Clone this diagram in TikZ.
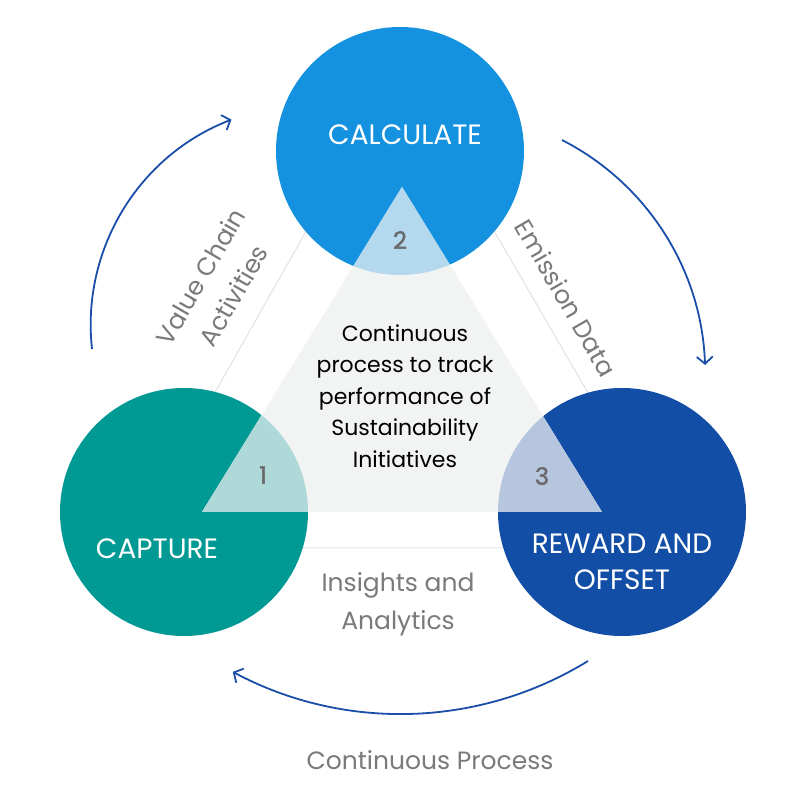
\documentclass[tikz,border=0pt]{standalone}
\usepackage{fontspec}
\setmainfont{Poppins}
\newfontfamily\numfont[FakeBold=1.5]{Poppins}
\usetikzlibrary{arrows.meta}
\definecolor{calcblue}{HTML}{1592DF}
\definecolor{capteal}{HTML}{009994}
\definecolor{rewblue}{HTML}{124EA6}
\definecolor{trifill}{HTML}{F2F4F3}
\definecolor{ovcalc}{HTML}{B4D8EE}
\definecolor{ovcap}{HTML}{AFD9D8}
\definecolor{ovrew}{HTML}{B6C6DF}
\definecolor{numgray}{HTML}{6A6A6A}
\definecolor{labgray}{HTML}{7A7A7A}
\definecolor{flowblue}{HTML}{1A4EA8}
\definecolor{faintgray}{HTML}{E2E2E2}
\begin{document}
\begin{tikzpicture}[x=1pt,y=1pt,
  bigcirc/.style={circle, minimum size=248pt, inner sep=0pt},
  circtext/.style={text=white, font=\fontsize{28}{36}\selectfont, align=center},
  numtext/.style={text=numgray, font=\numfont\fontsize{24}{26}\selectfont},
  graylab/.style={text=labgray, font=\fontsize{25}{38}\selectfont, align=center},
  flow/.style={draw=flowblue, line width=1.8pt, -{Straight Barb[length=7pt,width=16pt]}},
  faint/.style={draw=faintgray, line width=1pt}]
\useasboundingbox (0,0) rectangle (808,798);
\fill[white] (0,0) rectangle (808,798);
% faint outer triangle
\coordinate (ot) at (399,731);
\coordinate (ol) at (127,250);
\coordinate (or) at (678,250);
\draw[faint] (ot) -- (ol) -- (or) -- cycle;
% circles
\node[bigcirc, fill=calcblue] (calc) at (400,647) {};
\node[bigcirc, fill=capteal] (capt) at (184,286) {};
\node[bigcirc, fill=rewblue] (rew) at (622,286) {};
% central triangle
\coordinate (ta) at (402,611);
\coordinate (tl) at (202,286);
\coordinate (tr) at (602,286);
\fill[trifill] (ta) -- (tl) -- (tr) -- cycle;
\begin{scope}
  \clip (ta) -- (tl) -- (tr) -- cycle;
  \fill[ovcalc] (calc.center) circle (124);
  \fill[ovcap] (capt.center) circle (124);
  \fill[ovrew] (rew.center) circle (124);
\end{scope}
% circle labels
\node[circtext] (tcalc) at (405,663) {CALCULATE};
\node[circtext] (tcapt) at (157,249) {CAPTURE};
\node[circtext] (trew) at (622,236) {REWARD AND\\OFFSET};
% numbers
\node[numtext] (n2) at (400,558) {2};
\node[numtext] (n1) at (263,323) {1};
\node[numtext] (n3) at (542,322) {3};
% centre text
\node[align=center, text=black, font=\fontsize{22}{31.5}\selectfont] (ctext) at (405,402)
  {Continuous\\process to track\\performance of\\Sustainability\\Initiatives};
% gray labels
\node[graylab, rotate=60] (vca) at (217,512) {Value Chain\\Activities};
\node[graylab, rotate=-60] (emd) at (566,500) {Emission Data};
\node[graylab] (ina) at (398,194) {Insights and\\Analytics};
\node[graylab] (cp) at (430,38) {Continuous Process};
% flow arrows
\coordinate (a1s) at (92,449);
\draw[flow] (a1s) arc[start angle=186.3, end angle=111.1, radius=220];
\coordinate (a2s) at (562,658);
\draw[flow] (a2s) arc[start angle=62.9, end angle=2, radius=263];
\coordinate (a3s) at (588,137);
\draw[flow] (a3s) arc[start angle=-58.4, end angle=-118.1, radius=357];
\end{tikzpicture}
\end{document}
